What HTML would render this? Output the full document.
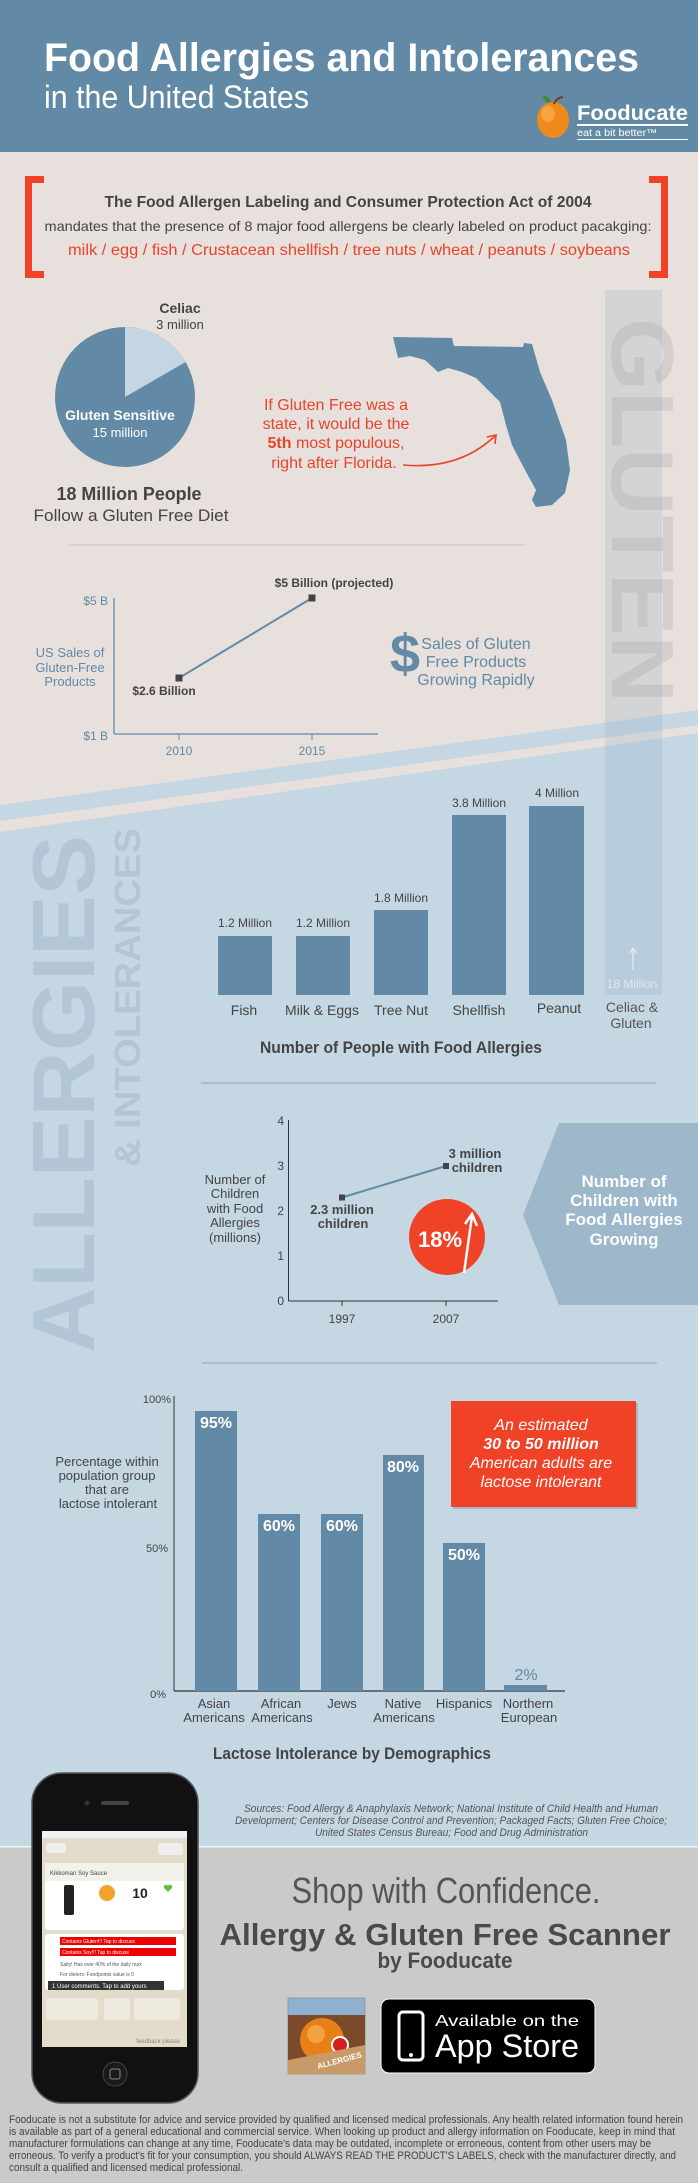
<!DOCTYPE html>
<html><head><meta charset="utf-8"><style>
html,body{margin:0;padding:0;background:#e7e0dc}
svg{display:block}
text{font-family:"Liberation Sans",sans-serif}
</style></head><body>
<svg width="698" height="2183" viewBox="0 0 698 2183" xmlns="http://www.w3.org/2000/svg">
<rect x="0" y="0" width="698" height="2183" fill="#e7e0dc"/>
<polygon points="0,805 698,710 698,725 0,821" fill="#c5d7e3"/>
<polygon points="0,832 698,733 698,1847 0,1847" fill="#c5d7e3"/>
<rect x="605" y="290" width="57" height="705" fill="#8fa9bf" opacity="0.22"/>
<text transform="translate(612,318) rotate(90)" font-size="88" font-weight="bold" fill="#a9a9ab" opacity="0.3" textLength="385" lengthAdjust="spacingAndGlyphs">GLUTEN</text>
<text transform="translate(94,1353) rotate(-90)" font-size="88" font-weight="bold" fill="#a7bccc" opacity="0.6" textLength="518" lengthAdjust="spacingAndGlyphs">ALLERGIES</text>
<text transform="translate(140,1167) rotate(-90)" font-size="36" font-weight="bold" fill="#a7bccc" opacity="0.6" textLength="339" lengthAdjust="spacingAndGlyphs">&amp; INTOLERANCES</text>

<rect x="0" y="0" width="698" height="152" fill="#628aa6"/>
<text x="44" y="71" font-size="40" font-weight="bold" fill="#fff" textLength="595" lengthAdjust="spacingAndGlyphs">Food Allergies and Intolerances</text>
<text x="44" y="108" font-size="32" fill="#fff" textLength="265" lengthAdjust="spacingAndGlyphs">in the United States</text>
<ellipse cx="553" cy="120" rx="16" ry="18" fill="#f08a1c"/>
<ellipse cx="548" cy="114" rx="7" ry="8" fill="#f8b04a" opacity="0.7"/>
<path d="M548,103 q-6,-5 -5,-8 q6,1 8,7z" fill="#3f8a2a"/>
<path d="M554,104 q2,-6 9,-7" stroke="#7a3a12" stroke-width="2" fill="none"/>
<text x="577" y="120" font-size="21" font-weight="bold" fill="#fff" textLength="111" lengthAdjust="spacingAndGlyphs">Fooducate</text>
<rect x="577" y="124" width="111" height="2" fill="#fff"/>
<text x="577" y="136" font-size="10" fill="#fff" textLength="80" lengthAdjust="spacingAndGlyphs">eat a bit better™</text>
<rect x="577" y="139" width="111" height="1" fill="#fff"/>

<path d="M25,176 h19 v7 h-12 v88 h12 v7 h-19z" fill="#ef4226"/>
<path d="M668,176 h-19 v7 h12 v88 h-12 v7 h19z" fill="#ef4226"/>
<text x="348" y="207" font-size="16" font-weight="bold" fill="#444" text-anchor="middle" textLength="487" lengthAdjust="spacingAndGlyphs">The Food Allergen Labeling and Consumer Protection Act of 2004</text>
<text x="348" y="231" font-size="14" fill="#444" text-anchor="middle" textLength="607" lengthAdjust="spacingAndGlyphs">mandates that the presence of 8 major food allergens be clearly labeled on product pacakging:</text>
<text x="349" y="255" font-size="16" fill="#e8442a" text-anchor="middle" textLength="562" lengthAdjust="spacingAndGlyphs">milk / egg / fish / Crustacean shellfish / tree nuts / wheat / peanuts / soybeans</text>

<circle cx="125" cy="397" r="70" fill="#628aa6"/>
<path d="M125,397 L125,327 A70,70 0 0 1 185.6,362 Z" fill="#c4d6e2"/>
<text x="180" y="313" font-size="14" font-weight="bold" fill="#444" text-anchor="middle">Celiac</text>
<text x="180" y="329" font-size="13" fill="#444" text-anchor="middle">3 million</text>
<text x="120" y="420" font-size="14" font-weight="bold" fill="#fff" text-anchor="middle">Gluten Sensitive</text>
<text x="120" y="437" font-size="13" fill="#fff" text-anchor="middle">15 million</text>
<text x="129" y="500" font-size="18" font-weight="bold" fill="#444" text-anchor="middle" textLength="145" lengthAdjust="spacingAndGlyphs">18 Million People</text>
<text x="131" y="521" font-size="17" fill="#444" text-anchor="middle" textLength="195" lengthAdjust="spacingAndGlyphs">Follow a Gluten Free Diet</text>

<polygon points="393,337 452,338 454,346 523,347 524,343 532,344 540,372 552,400 566,440 570,470 565,493 552,505 536,507 532,500 536,490 525,470 512,445 506,425 500,402 488,390 476,378 462,372 448,368 438,372 425,360 410,356 398,358" fill="#628aa6"/>
<g font-size="16" fill="#e8442a" text-anchor="middle">
<text x="336" y="410">If Gluten Free was a</text>
<text x="336" y="429">state, it would be the</text>
<text x="336" y="448"><tspan font-weight="bold">5th</tspan> most populous,</text>
<text x="334" y="468">right after Florida.</text>
</g>
<path d="M403,465 Q460,470 496,435" stroke="#e8442a" stroke-width="1.6" fill="none"/>
<path d="M487,437 L496,435 L495,444" stroke="#e8442a" stroke-width="1.6" fill="none"/>
<rect x="69" y="544" width="456" height="2" fill="#dcd0c9"/>

<line x1="114" y1="598" x2="114" y2="734" stroke="#628aa6" stroke-width="1.3"/>
<line x1="114" y1="734" x2="378" y2="734" stroke="#628aa6" stroke-width="1.3"/>
<line x1="179" y1="734" x2="179" y2="740" stroke="#628aa6"/>
<line x1="312" y1="734" x2="312" y2="740" stroke="#628aa6"/>
<g font-size="12" fill="#628aa6">
<text x="108" y="605" text-anchor="end">$5 B</text>
<text x="108" y="740" text-anchor="end">$1 B</text>
<text x="179" y="755" text-anchor="middle">2010</text>
<text x="312" y="755" text-anchor="middle">2015</text>
</g>
<line x1="179" y1="678" x2="312" y2="598" stroke="#628aa6" stroke-width="2"/>
<rect x="175.5" y="674.5" width="7" height="7" fill="#444"/>
<rect x="308.5" y="594.5" width="7" height="7" fill="#444"/>
<text x="334" y="587" font-size="12" font-weight="bold" fill="#444" text-anchor="middle">$5 Billion (projected)</text>
<text x="164" y="695" font-size="12" font-weight="bold" fill="#444" text-anchor="middle">$2.6 Billion</text>
<g font-size="13" fill="#628aa6" text-anchor="middle">
<text x="70" y="657">US Sales of</text><text x="70" y="672">Gluten-Free</text><text x="70" y="686">Products</text>
</g>
<text x="390" y="672" font-size="54" font-weight="bold" fill="#628aa6">$</text>
<g font-size="16" fill="#628aa6" text-anchor="middle">
<text x="476" y="649">Sales of Gluten</text><text x="476" y="667">Free Products</text><text x="476" y="685">Growing Rapidly</text>
</g>

<g fill="#628aa6">
<rect x="218" y="936" width="54" height="59"/>
<rect x="296" y="936" width="54" height="59"/>
<rect x="374" y="910" width="54" height="85"/>
<rect x="452" y="815" width="54" height="180"/>
<rect x="529" y="806" width="55" height="189"/>
</g>
<g font-size="12" fill="#444" text-anchor="middle">
<text x="245" y="927">1.2 Million</text>
<text x="323" y="927">1.2 Million</text>
<text x="401" y="902">1.8 Million</text>
<text x="479" y="807">3.8 Million</text>
<text x="557" y="797">4 Million</text>
</g>
<g font-size="14" fill="#444" text-anchor="middle">
<text x="244" y="1015">Fish</text>
<text x="322" y="1015">Milk &amp; Eggs</text>
<text x="401" y="1015">Tree Nut</text>
<text x="479" y="1015">Shellfish</text>
<text x="559" y="1013">Peanut</text>
<text x="632" y="1012" fill="#555">Celiac &amp;</text>
<text x="631" y="1028" fill="#555">Gluten</text>
</g>
<text x="632" y="988" font-size="12" fill="#dde8ef" text-anchor="middle">18 Million</text>
<line x1="633" y1="970" x2="633" y2="950" stroke="#eef3f7" stroke-width="1"/>
<path d="M630,953 L633,948 L636,953" stroke="#eef3f7" fill="none"/>
<text x="401" y="1053" font-size="17" font-weight="bold" fill="#444" text-anchor="middle" textLength="282" lengthAdjust="spacingAndGlyphs">Number of People with Food Allergies</text>
<rect x="201" y="1082" width="455" height="2" fill="#a8bfd0"/>
<rect x="202" y="1362" width="455" height="2" fill="#a8bfd0"/>

<line x1="288.5" y1="1120" x2="288.5" y2="1301" stroke="#333" stroke-width="1"/>
<line x1="288.5" y1="1301" x2="498" y2="1301" stroke="#333" stroke-width="1"/>
<line x1="342" y1="1301" x2="342" y2="1306" stroke="#333"/>
<line x1="446" y1="1301" x2="446" y2="1306" stroke="#333"/>
<g font-size="12" fill="#444">
<text x="284" y="1125" text-anchor="end">4</text>
<text x="284" y="1170" text-anchor="end">3</text>
<text x="284" y="1215" text-anchor="end">2</text>
<text x="284" y="1260" text-anchor="end">1</text>
<text x="284" y="1305" text-anchor="end">0</text>
<text x="342" y="1323" text-anchor="middle">1997</text>
<text x="446" y="1323" text-anchor="middle">2007</text>
</g>
<line x1="342" y1="1197.5" x2="446" y2="1166" stroke="#628aa6" stroke-width="2"/>
<rect x="339" y="1194.5" width="6" height="6" fill="#444"/>
<rect x="443" y="1163" width="6" height="6" fill="#444"/>
<g font-size="13" font-weight="bold" fill="#444" text-anchor="middle">
<text x="342" y="1214">2.3 million</text><text x="343" y="1228">children</text>
<text x="475" y="1158">3 million</text><text x="477" y="1172">children</text>
</g>
<g font-size="13" fill="#444" text-anchor="middle">
<text x="235" y="1184">Number of</text><text x="235" y="1198">Children</text><text x="235" y="1213">with Food</text><text x="235" y="1227">Allergies</text><text x="235" y="1242">(millions)</text>
</g>
<circle cx="447" cy="1237" r="38" fill="#ef4226"/>
<text x="440" y="1247" font-size="22" font-weight="bold" fill="#fff" text-anchor="middle">18%</text>
<line x1="464" y1="1273" x2="472" y2="1216" stroke="#fff" stroke-width="2.5"/>
<path d="M465,1224 L472,1214 L477,1226" stroke="#fff" stroke-width="2.5" fill="none"/>
<polygon points="559,1123 698,1123 698,1305 559,1305 523,1215" fill="#9db7cb"/>
<g font-size="17" font-weight="bold" fill="#fff" text-anchor="middle">
<text x="624" y="1187">Number of</text><text x="624" y="1206">Children with</text><text x="624" y="1225">Food Allergies</text><text x="624" y="1245">Growing</text>
</g>

<line x1="174" y1="1396" x2="174" y2="1691" stroke="#333" stroke-width="1"/>
<line x1="174" y1="1691" x2="565" y2="1691" stroke="#333" stroke-width="1.2"/>
<g font-size="11" fill="#444" text-anchor="end">
<text x="171" y="1403">100%</text><text x="168" y="1552">50%</text><text x="166" y="1698">0%</text>
</g>
<g fill="#628aa6">
<rect x="195" y="1411" width="42" height="280"/>
<rect x="258" y="1514" width="42" height="177"/>
<rect x="321" y="1514" width="42" height="177"/>
<rect x="383" y="1455" width="41" height="236"/>
<rect x="443" y="1543" width="42" height="148"/>
<rect x="504" y="1685" width="43" height="6"/>
</g>
<g font-size="16" font-weight="bold" fill="#fff" text-anchor="middle">
<text x="216" y="1428">95%</text><text x="279" y="1531">60%</text><text x="342" y="1531">60%</text>
<text x="403" y="1472">80%</text><text x="464" y="1560">50%</text>
</g>
<text x="526" y="1680" font-size="16" fill="#628aa6" text-anchor="middle">2%</text>
<g font-size="13" fill="#444" text-anchor="middle">
<text x="214" y="1708">Asian</text><text x="214" y="1722">Americans</text>
<text x="281" y="1708">African</text><text x="282" y="1722">Americans</text>
<text x="342" y="1708">Jews</text>
<text x="403" y="1708">Native</text><text x="404" y="1722">Americans</text>
<text x="464" y="1708">Hispanics</text>
<text x="528" y="1708">Northern</text><text x="529" y="1722">European</text>
</g>
<g font-size="13" fill="#444" text-anchor="middle">
<text x="107" y="1466">Percentage within</text><text x="107" y="1480">population group</text><text x="107" y="1494">that are</text><text x="108" y="1508">lactose intolerant</text>
</g>
<rect x="453" y="1403" width="185" height="106" fill="#000" opacity="0.15"/>
<rect x="451" y="1401" width="185" height="106" fill="#ef4226"/>
<g font-size="16" font-style="italic" fill="#fff" text-anchor="middle">
<text x="541" y="1430">An estimated</text>
<text x="541" y="1449" font-weight="bold">30 to 50 million</text>
<text x="541" y="1468">American adults are</text>
<text x="541" y="1487">lactose intolerant</text>
</g>
<text x="352" y="1759" font-size="17" font-weight="bold" fill="#444" text-anchor="middle" textLength="278" lengthAdjust="spacingAndGlyphs">Lactose Intolerance by Demographics</text>
<g font-size="11" font-style="italic" fill="#555">
<text x="244" y="1812" textLength="414" lengthAdjust="spacingAndGlyphs">Sources: Food Allergy &amp; Anaphylaxis Network; National Institute of Child Health and Human</text>
<text x="235" y="1824" textLength="432" lengthAdjust="spacingAndGlyphs">Development; Centers for Disease Control and Prevention; Packaged Facts; Gluten Free Choice;</text>
<text x="315" y="1836" textLength="273" lengthAdjust="spacingAndGlyphs">United States Census Bureau; Food and Drug Administration</text>
</g>

<rect x="0" y="1847" width="698" height="336" fill="#cacaca"/>
<rect x="0" y="1846" width="698" height="1.5" fill="#f4f4f4"/>
<text x="446" y="1903" font-size="36" fill="#555" text-anchor="middle" textLength="309" lengthAdjust="spacingAndGlyphs">Shop with Confidence.</text>
<text x="445" y="1945" font-size="31" font-weight="bold" fill="#4a4a4a" text-anchor="middle" textLength="451" lengthAdjust="spacingAndGlyphs">Allergy &amp; Gluten Free Scanner</text>
<text x="445" y="1968" font-size="22" font-weight="bold" fill="#4a4a4a" text-anchor="middle" textLength="135" lengthAdjust="spacingAndGlyphs">by Fooducate</text>
<rect x="288" y="1998" width="77" height="76" fill="#8fb0d0" stroke="#999"/>
<rect x="288" y="2015" width="77" height="59" fill="#7a4a2a"/>
<circle cx="322" cy="2040" r="22" fill="#e8801a"/>
<circle cx="316" cy="2034" r="9" fill="#f6b252" opacity="0.7"/>
<circle cx="340" cy="2045" r="9" fill="#fff"/>
<circle cx="340" cy="2045" r="7" fill="#d62020"/>
<polygon points="288,2060 365,2045 365,2074 288,2074" fill="#c89a68"/>
<text x="318" y="2069" font-size="8" font-weight="bold" fill="#fff" transform="rotate(-15 318 2069)">ALLERGIES</text>
<rect x="381" y="1999" width="214" height="74" rx="8" fill="#000" stroke="#fff" stroke-width="1"/>
<rect x="399" y="2012" width="24" height="48" rx="4" fill="none" stroke="#fff" stroke-width="3"/>
<circle cx="411" cy="2055" r="2" fill="#fff"/>
<text x="435" y="2026" font-size="16" fill="#fff" textLength="144" lengthAdjust="spacingAndGlyphs">Available on the</text>
<text x="435" y="2057" font-size="32" fill="#fff" textLength="144" lengthAdjust="spacingAndGlyphs">App Store</text>
<rect x="32" y="1773" width="166" height="330" rx="30" fill="#111" stroke="#555" stroke-width="1.5"/>
<rect x="42" y="1831" width="145" height="216" fill="#e3dccb"/>
<rect x="42" y="1831" width="145" height="7" fill="#f2f2f2"/>
<circle cx="87" cy="1803" r="2.5" fill="#333"/>
<rect x="101" y="1801" width="28" height="4" rx="2" fill="#444"/>
<circle cx="115" cy="2074" r="12" fill="#1a1a1a" stroke="#444"/>
<rect x="110" y="2069" width="10" height="10" rx="2" fill="none" stroke="#888"/>
<rect x="46" y="1843" width="20" height="10" rx="3" fill="#eee"/>
<rect x="158" y="1843" width="25" height="12" rx="3" fill="#eee"/>
<rect x="45" y="1863" width="139" height="67" rx="3" fill="#fff"/>
<rect x="45" y="1863" width="139" height="18" fill="#f3f1ec"/>
<text x="50" y="1875" font-size="6" fill="#444">Kikkoman Soy Sauce</text>
<rect x="64" y="1885" width="10" height="30" rx="2" fill="#222"/>
<circle cx="107" cy="1893" r="8" fill="#f2a12a"/>
<text x="140" y="1898" font-size="14" font-weight="bold" fill="#222" text-anchor="middle">10</text>
<path d="M164,1888 l4,4 l4,-4 a2,2 0 0 0 -4,-2 a2,2 0 0 0 -4,2z" fill="#5dc23a"/>
<rect x="45" y="1934" width="139" height="56" rx="3" fill="#fff"/>
<rect x="60" y="1937" width="116" height="8" fill="#e00"/>
<rect x="60" y="1948" width="116" height="8" fill="#e00"/>
<text x="62" y="1943" font-size="5" fill="#fff">Contains Gluten!!! Tap to discuss</text>
<text x="62" y="1954" font-size="5" fill="#fff">Contains Soy!!! Tap to discuss</text>
<text x="60" y="1966" font-size="5" fill="#555">Salty! Has over 40% of the daily max</text>
<text x="60" y="1976" font-size="5" fill="#555">For dieters: Foodpoints value is 0</text>
<rect x="48" y="1981" width="116" height="9" fill="#333"/>
<text x="52" y="1988" font-size="6" fill="#fff">1 User comments. Tap to add yours</text>
<rect x="46" y="1998" width="52" height="22" rx="3" fill="#eeeae0"/>
<rect x="104" y="1998" width="26" height="22" rx="3" fill="#eeeae0"/>
<rect x="134" y="1998" width="46" height="22" rx="3" fill="#eeeae0"/>
<text x="180" y="2043" font-size="6" fill="#888" text-anchor="end">feedback please</text>

<g font-size="11" fill="#444">
<text x="9" y="2123" textLength="674" lengthAdjust="spacingAndGlyphs">Fooducate is not a substitute for advice and service provided by qualified and licensed medical professionals. Any health related information found herein</text>
<text x="9" y="2135" textLength="666" lengthAdjust="spacingAndGlyphs">is available as part of a general educational and commercial service. When looking up product and allergy information on Fooducate, keep in mind that</text>
<text x="9" y="2147" textLength="642" lengthAdjust="spacingAndGlyphs">manufacturer formulations can change at any time, Fooducate's data may be outdated, incomplete or erroneous, content from other users may be</text>
<text x="9" y="2159" textLength="667" lengthAdjust="spacingAndGlyphs">erroneous. To verify a product's fit for your consumption, you should ALWAYS READ THE PRODUCT'S LABELS, check with the manufacturer directly, and</text>
<text x="9" y="2171" textLength="234" lengthAdjust="spacingAndGlyphs">consult a qualified and licensed medical professional.</text>
</g>
</svg>
</body></html>
